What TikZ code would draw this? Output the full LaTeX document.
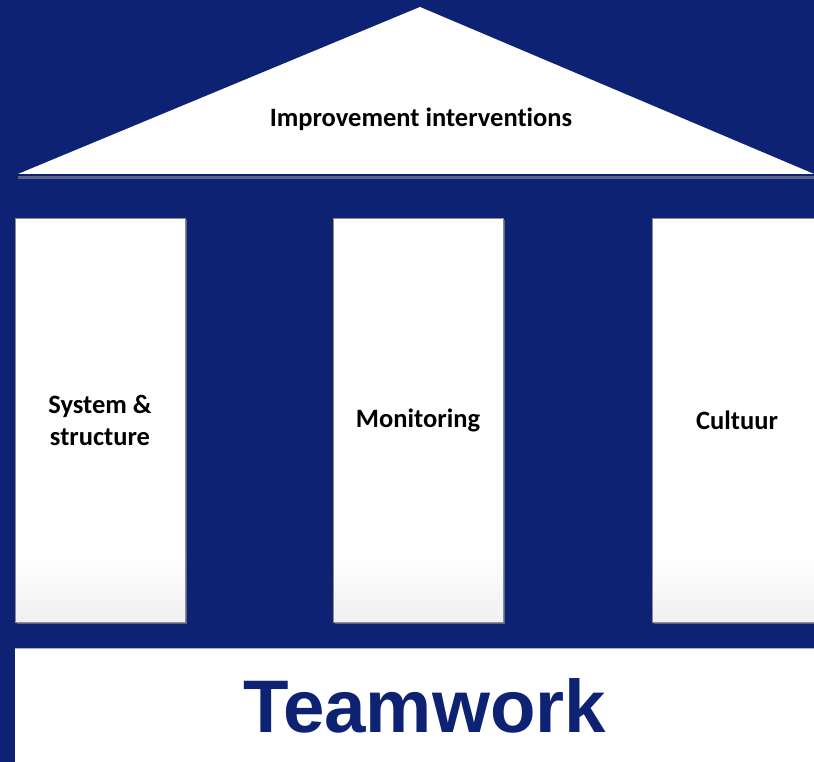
\documentclass[tikz,border=0pt]{standalone}
\usepackage{fontspec}
\newfontfamily\carlitofont[Ligatures=NoCommon]{Carlito}
\newfontfamily\arialfont{Liberation Sans}
\definecolor{navy}{RGB}{13,34,114}
\definecolor{pillarbot}{RGB}{240,240,240}
\definecolor{shadowc}{RGB}{90,100,140}
\begin{document}
\begin{tikzpicture}[x=1pt,y=-1pt,
  lbl/.style={font=\carlitofont\bfseries\fontsize{26.5}{32}\selectfont,text=black,align=center}]
\useasboundingbox (0,0) rectangle (814,762);
\fill[navy] (0,0) rectangle (814,762);
% roof
\fill[shadowc] (18,176) -- (814,176) -- (814,179) -- (18,179) -- cycle;
\fill[white] (420,7) -- (814,174) -- (18,174) -- cycle;
\node[lbl] (roof) at (421,119) {Improvement interventions};
% pillars
\foreach \n/\x in {ps/15,pm/333,pc/652}{
  \fill[shadowc] (\x+2,220) rectangle (\x+172,624);
  \fill[white] (\x,218) rectangle (\x+170,622);
  \shade[top color=white,bottom color=pillarbot] (\x,555) rectangle (\x+170,622);
  \draw[gray!90,line width=0.8pt] (\x,218) rectangle (\x+170,622);
  \coordinate (\n) at (\x+85,420);
}
\node[lbl] (sys) at (ps) {System \&\\structure};
\node[lbl] (mon) at (pm) {Monitoring};
\node[lbl] (cul) at (pc) {Cultuur};
% base
\fill[white] (15,648) rectangle (814,762);
\draw[gray!60,line width=0.6pt] (15,648) -- (814,648);
\node[font=\arialfont\bfseries\fontsize{74.5}{80}\selectfont,text=navy] (team) at (424.5,705.5) {Teamwork};
\end{tikzpicture}
\end{document}
